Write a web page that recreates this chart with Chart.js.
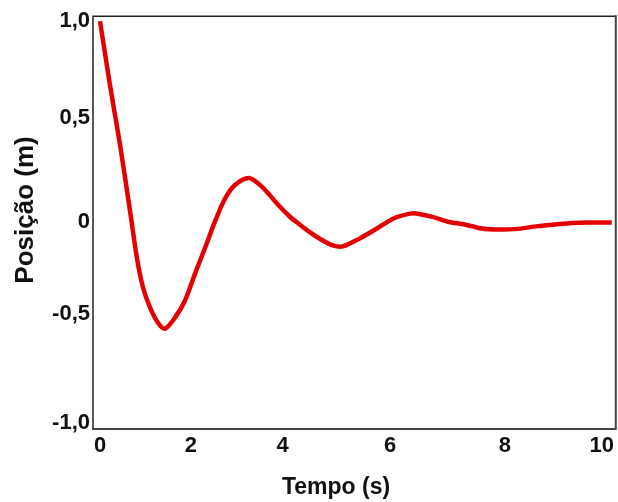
<!DOCTYPE html>
<html>
<head>
<meta charset="utf-8">
<script src="https://cdn.jsdelivr.net/npm/chart.js@4"></script>
<style>
  html, body { margin: 0; padding: 0; background: #fff; }
</style>
</head>
<body>
<canvas id="myChart" width="618" height="502"></canvas>
<script>
// tempo (s) e posição (m)
let tempo = [0, 0.2, 0.4, 0.6, 0.74, 0.86, 1.0, 1.155, 1.29, 1.49, 1.69, 1.89, 2.09, 2.29, 2.49, 2.69, 2.97, 3.23, 3.55, 3.78, 3.98, 4.18, 4.38, 4.64, 4.84, 5.18, 5.52, 5.84, 6.18, 6.33, 6.61, 6.93, 7.27, 7.61, 7.93, 8.27, 8.73, 9.06, 9.40, 9.72, 10.2];
let posicao = [1.0, 0.679, 0.383, 0.052, -0.185, -0.328, -0.427, -0.501, -0.531, -0.477, -0.393, -0.259, -0.131, 0.002, 0.116, 0.185, 0.22, 0.175, 0.086, 0.028, -0.012, -0.05, -0.083, -0.116, -0.121, -0.081, -0.032, 0.017, 0.042, 0.042, 0.027, 0.002, -0.012, -0.032, -0.037, -0.035, -0.02, -0.012, -0.004, -0.002, -0.002];

// rótulos dos eixos, onde aparecem na figura
let xTickValues = [0, 1.81, 3.64, 5.78, 8.07, 10];
let xTickLabels = ['0', '2', '4', '6', '8', '10'];
let yTickValues = [1, 0.52, 0, -0.455, -1];
let yTickLabels = ['1,0', '0,5', '0', '-0,5', '-1,0'];

let xTitle = 'Tempo (s)';
let yTitle = 'Posição (m)';

let points = tempo.map((t, i) => ({ x: t, y: posicao[i] }));
let FONT = '"Liberation Sans", Arial, sans-serif';

// moldura em volta da área do gráfico
const frame = {
	id: 'frame',
	beforeDatasetsDraw(chart) {
		const { ctx, chartArea: a } = chart;
		ctx.save();
		ctx.lineCap = 'square';
		ctx.strokeStyle = '#222';
		ctx.lineWidth = 1.5;
		ctx.beginPath();
		ctx.moveTo(a.left, a.bottom);
		ctx.lineTo(a.left, a.top);
		ctx.lineTo(a.right, a.top);
		ctx.stroke();
		ctx.strokeStyle = '#444';
		ctx.lineWidth = 2;
		ctx.beginPath();
		ctx.moveTo(a.left, a.bottom);
		ctx.lineTo(a.right, a.bottom);
		ctx.lineTo(a.right, a.top);
		ctx.stroke();
		ctx.restore();
	},
};

// títulos dos eixos
const titles = {
	id: 'titles',
	afterDraw(chart) {
		const ctx = chart.ctx;
		ctx.save();
		ctx.fillStyle = '#111';
		ctx.textAlign = 'center';
		ctx.textBaseline = 'middle';
		ctx.font = 'bold 23px ' + FONT;
		ctx.fillText(xTitle, 336, 488);
		ctx.translate(26, 210);
		ctx.rotate(-Math.PI / 2);
		ctx.font = 'bold 26px ' + FONT;
		ctx.fillText(yTitle, 0, 0);
		ctx.restore();
	},
};

var chartArea = document.getElementById('myChart').getContext('2d');
var myChart = new Chart(chartArea, {
	type: 'line',
	data: {
		datasets: [
			{
				data: points,
				borderColor: 'rgb(228, 0, 0)',
				borderWidth: 4.5,
				pointRadius: 0,
				tension: 0.3,
				fill: false,
			},
		],
	},
	options: {
		responsive: false,
		animation: false,
		layout: { padding: { left: 0, top: 13, right: 2, bottom: 0 } },
		plugins: {
			legend: { display: false },
			tooltip: { enabled: false },
		},
		scales: {
			x: {
				type: 'linear',
				min: -0.14,
				max: 10.28,
				grid: { display: false, drawTicks: false },
				border: { display: false },
				afterBuildTicks: (s) => {
					s.ticks = xTickValues.map((v) => ({ value: v }));
				},
				afterFit: (s) => {
					s.height = 73;
				},
				ticks: {
					autoSkip: false,
					maxRotation: 0,
					padding: 4,
					color: '#111',
					font: { family: FONT, size: 22, weight: 'bold' },
					callback: (v, i) => xTickLabels[i],
				},
			},
			y: {
				min: -1.03,
				max: 1.025,
				grid: { display: false, drawTicks: false },
				border: { display: false },
				afterBuildTicks: (s) => {
					s.ticks = yTickValues.map((v) => ({ value: v }));
				},
				afterFit: (s) => {
					s.width = 93;
				},
				ticks: {
					autoSkip: false,
					padding: 3,
					color: '#111',
					font: { family: FONT, size: 22, weight: 'bold' },
					callback: (v, i) => yTickLabels[i],
				},
			},
		},
	},
	plugins: [frame, titles],
});
</script>
</body>
</html>
